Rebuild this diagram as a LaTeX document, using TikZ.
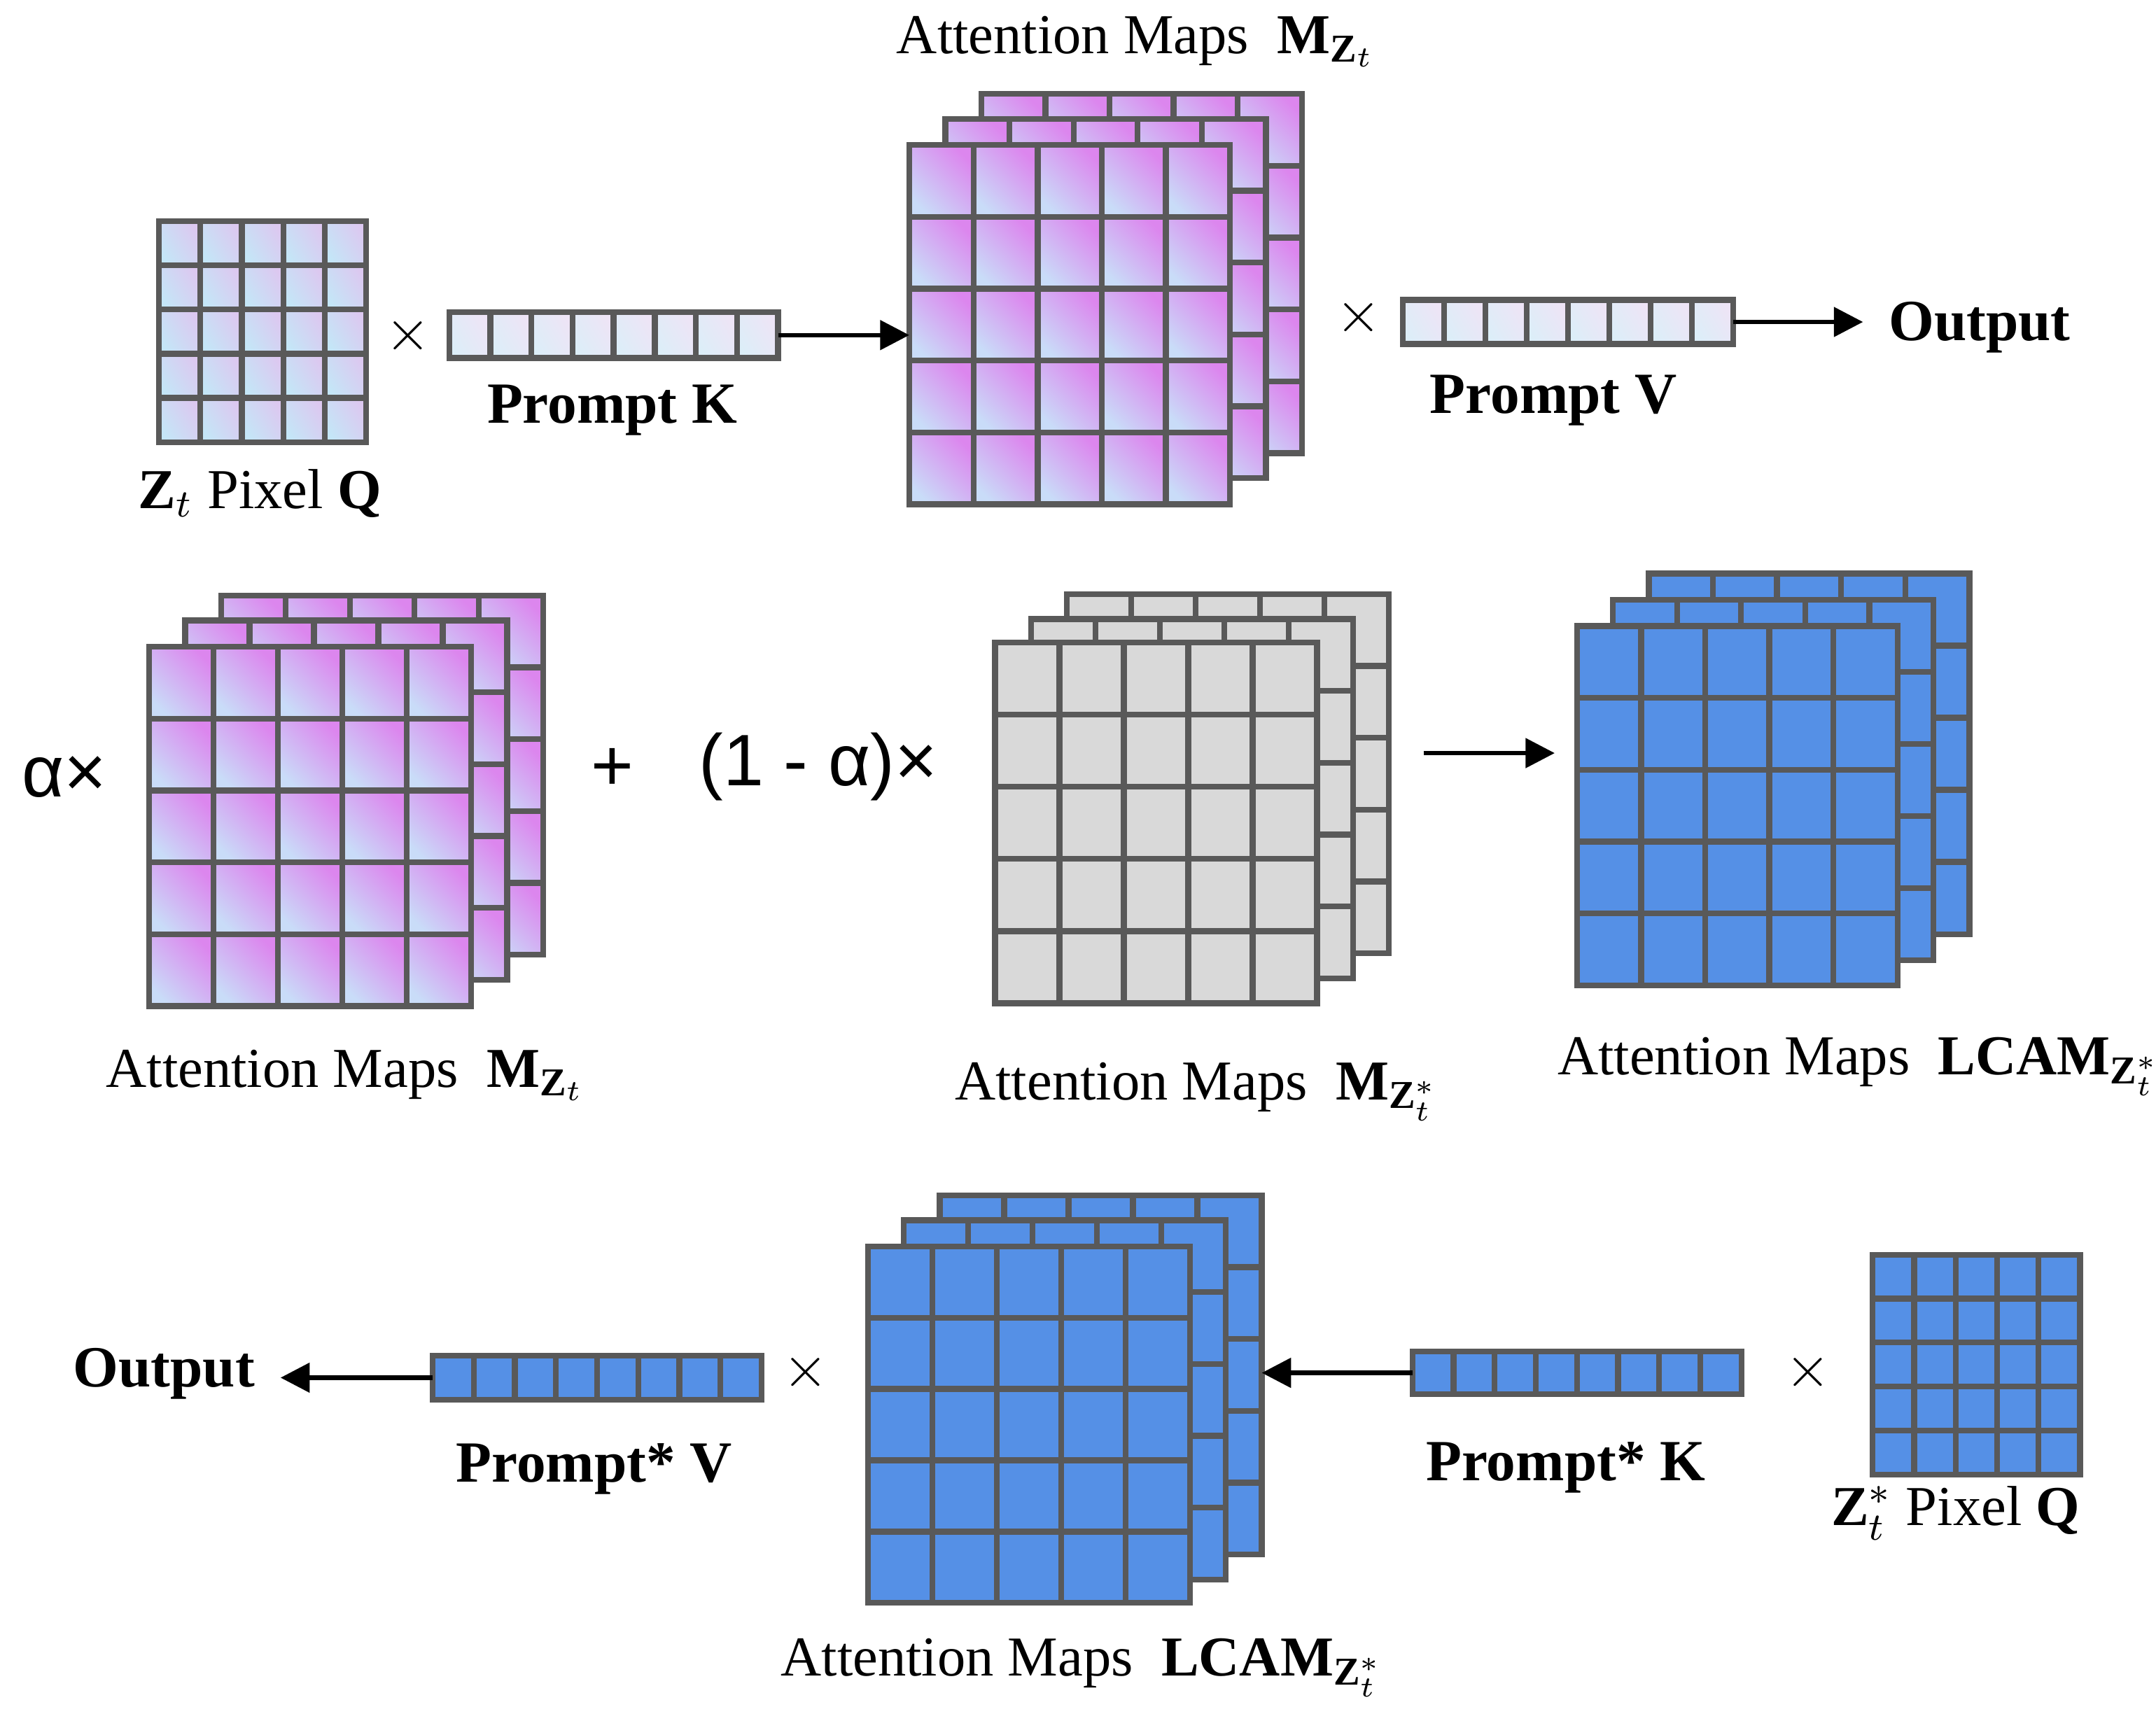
\documentclass[tikz,border=0pt]{standalone}
\usepackage{fontspec}
\setmainfont{Liberation Serif}
\newfontfamily\sansf{Liberation Sans}
\usetikzlibrary{arrows.meta}
\definecolor{gl}{HTML}{595959}
\definecolor{pk}{HTML}{DC86EE}
\definecolor{lb}{HTML}{C9DCF8}
\definecolor{qa}{HTML}{C4E6F7}
\definecolor{qb}{HTML}{DCC8F0}
\definecolor{ba}{HTML}{DCEEF8}
\definecolor{bb}{HTML}{EEE4F6}
\definecolor{bl}{HTML}{5590E6}
\definecolor{gy}{HTML}{D9D9D9}
\tikzset{
  gridline/.style={draw=gl,line width=1.2pt},
  pinkc/.style={top color=pk,bottom color=lb,shading angle=-45},
  qc/.style={top color=qb,bottom color=qa,shading angle=-60},
  barc/.style={top color=bb,bottom color=ba,shading angle=-60},
  bluec/.style={fill=bl},
  grayc/.style={fill=gy},
  arr/.style={line width=0.9pt,-{Triangle[length=6pt,width=6pt]}},
  lab/.style={font=\fontsize{11.6}{14}\selectfont,inner sep=0},
  blab/.style={font=\fontsize{12}{14}\selectfont\bfseries,inner sep=0},
  big/.style={font=\fontsize{15}{18}\sansf,inner sep=0},
  box/.style={inner sep=0,outer sep=0,draw=none},
}
% x0 y0 x1 y1 nx ny style
\newcommand\glayer[7]{%
  \pgfmathsetmacro\gxa{#1}\pgfmathsetmacro\gya{#2}%
  \pgfmathsetmacro\gxb{#3}\pgfmathsetmacro\gyb{#4}%
  \pgfmathsetmacro\gdx{(\gxb-\gxa)/#5}\pgfmathsetmacro\gdy{(\gyb-\gya)/#6}%
  \foreach \i in {1,...,#5}{\foreach \j in {1,...,#6}{%
    \path[#7] ({\gxa+(\i-1)*\gdx},{\gya+(\j-1)*\gdy}) rectangle ({\gxa+\i*\gdx},{\gya+\j*\gdy});}}
  \draw[gridline] (\gxa,\gya) rectangle (\gxb,\gyb);
  \foreach \i in {1,...,#5}{\draw[gridline] ({\gxa+\i*\gdx},\gya) -- ({\gxa+\i*\gdx},\gyb);}
  \foreach \j in {1,...,#6}{\draw[gridline] (\gxa,{\gya+\j*\gdy}) -- (\gxb,{\gya+\j*\gdy});}
}
\newcommand\stackthree[5]{% x0 y0 w h style
  \glayer{#1+52}{#2-37}{#1+52+#3}{#2-37+#4}{5}{5}{#5}
  \glayer{#1+26}{#2-19}{#1+26+#3}{#2-19+#4}{5}{5}{#5}
  \glayer{#1}{#2}{#1+#3}{#2+#4}{5}{5}{#5}
}
\begin{document}
\begin{tikzpicture}[x=0.01cm,y=-0.01cm]
\useasboundingbox (0,0) rectangle (1560,1245);
% ---------- top row
\glayer{115}{160}{265}{320}{5}{5}{qc}
\node[box,minimum width=1.5cm,minimum height=1.6cm] (q1) at (190,240) {};
\node[lab] (q1l) at (188,357) {$\mathbf{Z}_t$ Pixel \textbf{Q}};
\node[lab] (x1) at (295,243) {$\times$};
\glayer{325}{226}{563}{259}{8}{1}{barc}
\node[box,minimum width=2.38cm,minimum height=0.33cm] (pk1) at (444,242.5) {};
\node[blab] (pk1l) at (443,297) {Prompt K};
\stackthree{658}{105}{232}{260}{pinkc}
\node[box,minimum width=2.32cm,minimum height=2.6cm] (m1) at (774,235) {};
\node[lab] (m1l) at (822,30) {Attention Maps\ \ $\mathbf{M}_{\mathbf{Z}_t}$};
\draw[arr] (pk1.east) -- (pk1.east -| m1.west);
\node[lab] (x2) at (983,230) {$\times$};
\glayer{1015}{217}{1254}{249}{8}{1}{barc}
\node[box,minimum width=2.39cm,minimum height=0.32cm] (pv1) at (1134.5,233) {};
\node[blab] (pv1l) at (1124,290) {Prompt V};
\node[blab,anchor=west] (o1) at (1366,237) {Output};
\draw[arr,shorten >=0.18cm] (pv1.east) -- (pv1.east -| o1.west);
% ---------- middle row
\node[big,anchor=east] (al) at (78,562) {α×};
\stackthree{108}{468}{233}{260}{pinkc}
\node[box,minimum width=2.33cm,minimum height=2.6cm] (m2) at (224.5,598) {};
\node[lab] (m2l) at (250,778) {Attention Maps\ \ $\mathbf{M}_{\mathbf{Z}_t}$};
\node[big] (plus) at (443,557) {+};
\node[big] (oma) at (592,555) {(1 - α)×};
\glayer{772}{430}{1005}{690}{5}{5}{grayc}
\glayer{746}{448}{979}{708}{5}{5}{grayc}
\glayer{720}{465}{953}{726}{5}{5}{grayc}
\node[box,minimum width=2.33cm,minimum height=2.61cm] (g2) at (836.5,595.5) {};
\node[lab] (g2l) at (866,790) {Attention Maps\ \ $\mathbf{M}_{\mathbf{Z}_t^*}$};
\coordinate (a2s) at (1030,545);
\glayer{1193}{415}{1425}{676}{5}{5}{bluec}
\glayer{1167}{434}{1399}{695}{5}{5}{bluec}
\glayer{1141}{453}{1373}{713}{5}{5}{bluec}
\node[box,minimum width=2.32cm,minimum height=2.6cm] (b2) at (1257,583) {};
\draw[arr,shorten >=0.16cm] (a2s) -- (a2s -| b2.west);
\node[lab] (b2l) at (1345,772) {Attention Maps\ \ $\mathbf{LCAM}_{\mathbf{Z}_t^*}$};
% ---------- bottom row
\glayer{680}{865}{913}{1125}{5}{5}{bluec}
\glayer{654}{883}{887}{1143}{5}{5}{bluec}
\glayer{628}{902}{861}{1160}{5}{5}{bluec}
\node[box,minimum width=2.33cm,minimum height=2.58cm] (b3) at (744.5,1031) {};
\node[lab] (b3l) at (783,1207) {Attention Maps\ \ $\mathbf{LCAM}_{\mathbf{Z}_t^*}$};
\glayer{313}{981}{551}{1013}{8}{1}{bluec}
\node[box,minimum width=2.38cm,minimum height=0.32cm] (pv3) at (432,997) {};
\node[blab] (pv3l) at (430,1063) {Prompt* V};
\node[blab,anchor=east] (o3) at (185,994) {Output};
\draw[arr,shorten >=0.18cm] (pv3.west) -- (pv3.west -| o3.east);
\node[lab] (x3) at (583,993) {$\times$};
\glayer{1022}{978}{1260}{1009}{8}{1}{bluec}
\node[box,minimum width=2.38cm,minimum height=0.31cm] (pk3) at (1141,993.5) {};
\node[blab] (pk3l) at (1133,1062) {Prompt* K};
\coordinate (b3e) at (913,993.5);
\draw[arr] (pk3.west) -- (b3e);
\node[lab] (x4) at (1308,993) {$\times$};
\glayer{1355}{908}{1505}{1067}{5}{5}{bluec}
\node[box,minimum width=1.5cm,minimum height=1.59cm] (q3) at (1430,987.5) {};
\node[lab] (q3l) at (1415,1095) {$\mathbf{Z}_t^*$ Pixel \textbf{Q}};
\end{tikzpicture}
\end{document}
